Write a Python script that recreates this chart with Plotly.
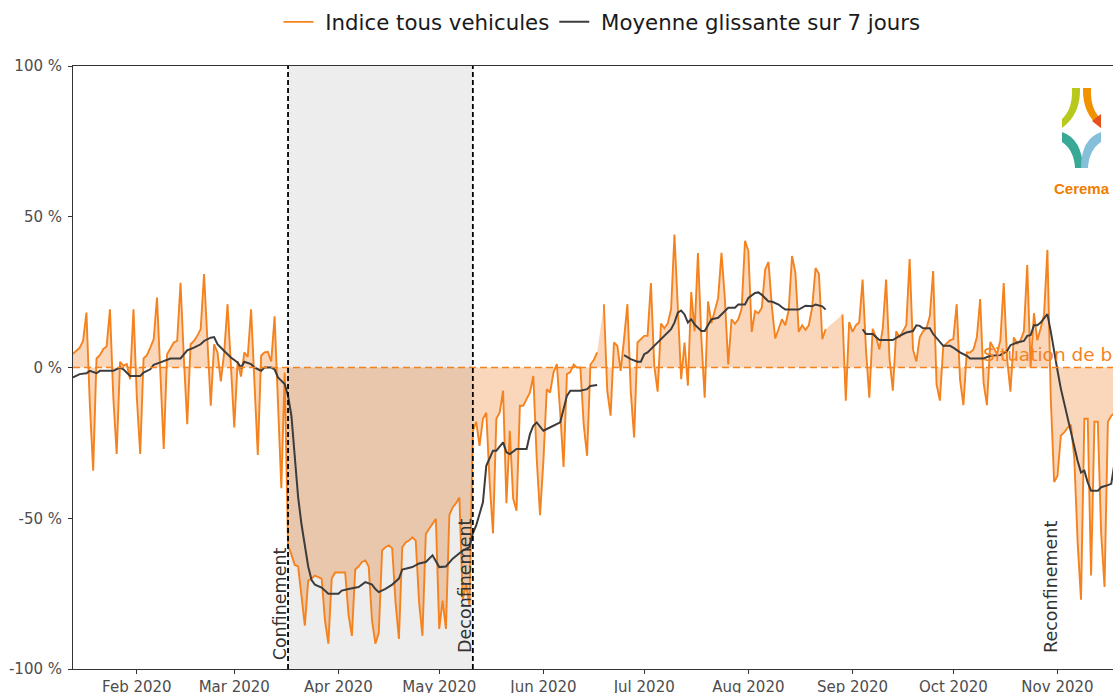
import pandas as pd
import plotly.graph_objects as go

# ---------------- data ----------------
START_DATE = "2020-01-13"
# daily index, all vehicles (%), Jan 13 -> Nov 18 2020 (None = missing day)
index_values = [
    4.5, 5.5, 6.6, 8.8, 18.2, -12, -34.2,
    3, 4.1, 6.1, 7, 19.3, -10, -28.7,
    1.9, 0.6, 1.1, -3.9, 19.3, -10, -28.7,
    3, 4.1, 6.6, 9.3, 23.2, -4, -27,
    4.4, 6.6, 8.3, 8.8, 28.1, 3, -18.8,
    7.7, 8.8, 10.5, 12.7, 31, 8, -12.7,
    7.7, 5, -4.6, 5, 21, -1, -19.9,
    2, -3, 5, 3.5, 19.3, -5, -29,
    4, 5, 5.2, 2, 17, -12, -40,
    -1.7, -59, -62, -65.5, -66, -76, -85.6,
    -70.7, -70, -69, -69.5, -70, -84, -91.6,
    -70, -68, -68, -68, -68, -82, -89,
    -67, -66, -64.5, -64, -66, -84, -91.6,
    -88, -60.7, -59.6, -59, -60, -78, -90,
    -59.6, -58, -57.4, -56.3, -57.4, -77.8, -89,
    -55.2, -53.5, -52, -50.2, -86.7, -77.3, -86.7,
    -49, -46.4, -45, -43.1, -77, -72, -79,
    -21, -18, -26, -17, -15, -38, -55,
    -17, -14.9, -7.7, -45, -21, -43.5, -47.5,
    -12.7, -12.7, -10.5, -8.3, -2.8, -30, -49,
    -31, -7.2, -8.3, -1.7, 1.1, -15, -33,
    -2.2, -1.5, 1, 0, 0, -19, -29.3,
    1, 2.5, 5, None, 21, -7.7, -16,
    8.3, 7.2, -1.1, 9.4, 21, -8, -23.2,
    8.3, 9.4, 10.5, 10.5, 28, 0.5, -8,
    14.6, 13, 14.6, 19.3, 44.1, 20, -3.9,
    8.3, -6, 25, 12, 38, 10, -10,
    21.9, 14.7, 19.3, 23, 38, 23, 1,
    16, 14.5, 16, 19.5, 42, 38.7, 11.8,
    18.7, 18, 19.8, 32.5, 35, 20, 9.6,
    12.5, 16, 14, 19, 37, 31.5, 11.8,
    14, 12.5, 14, 20, 33, 31, 9.4,
    12.7, None, None, None, None, 17.6, -11,
    15.1, 11.8, 14, 15, 29.2, 6, -10,
    12.8, 10, 6, 13, 29.2, 3, -7.7,
    12, 10, 12, 14, 36, 6, 2,
    10, 12, 13, 17, 32, -5.5, -11,
    7, 8, 9, 9.4, 21, -4, -12.5,
    5, 5, 6, 10, 22.7, -5, -12.5,
    8.5, 6.5, 4.5, 9, 28, 3, -8,
    10, 8, 9, 12, 34, 0, 18,
    9, 13, 17.5, 39, -10, -38, -36,
    -22.6, -21.5, -20, -19, -30, -58, -77,
    -17, -17, -69, -18, -18, -55, -72.8,
    -18, -16, -15,
]

# 7-day moving average, read at these days (offset from 2020-02-01)
ma_days = [
    -19, -17, -15, -14, -12, -11, -7, -5, -4, -2, 1, 2, 4, 5, 7, 10, 13, 15, 17, 19,
    20, 22, 23, 24, 26, 28, 30, 31, 32, 34, 35, 37, 38, 40, 41, 42, 44, 45, 46, 47,
    48, 49, 50, 51, 52, 53, 55, 57, 60, 61, 63, 66, 68, 70, 71, 72, 74, 76, 78, 79,
    82, 84, 86, 88, 90, 92, 94, 97, 99, 100, 101, 103, 104, 106, 107, 109, 110, 111, 113, 116,
    117, 118, 119, 121, 122, 124, 126, 128, 129, 132, 134, 135, 137, 138,
    145, 147, 149, 150, 151, 152, 153, 155, 157, 159, 160, 161, 162, 163, 164, 165, 166, 168, 169, 170,
    171, 173, 174, 176, 178, 179, 181, 182, 184, 185, 186, 188, 189, 191, 192, 193, 195, 197, 199, 201,
    202, 204, 205, 206,
    216, 217, 219, 221, 225, 227, 229, 231, 232, 233, 234, 236, 237, 239, 240, 242, 243, 245, 247, 248,
    252, 254, 256, 257, 259, 260, 262, 264, 265, 266, 267, 268, 269, 271, 272, 273, 274, 275, 276, 277,
    278, 279, 280, 281, 282, 283, 284, 286, 287, 289, 290, 291,
]
ma_values = [
    -3.3, -2.2, -1.9, -1.1, -1.9, -1.1, -1.1, 0.0, -0.6, -2.8, -2.8, -1.7, -0.6, 0.9, 1.7, 3.0, 3.0, 5.7, 6.6, 7.7,
    8.8, 9.9, 10.1, 7.7, 5.5, 3.3, 1.7, 0.0, 1.9, 1.1, 0.0, -1.1, 0.0, 0.0, -0.6, -3.3, -5.5, -9.4, -16, -30,
    -43, -52, -59, -66, -70.5, -72, -73, -75, -75, -74, -73.5, -72.8, -71.2, -72, -73.5, -74.5, -73.4, -72, -70, -67,
    -66.2, -65, -64.5, -62.3, -66.2, -66, -63.4, -60.7, -59.6, -55, -52.4, -44.7, -32.6, -27.6, -27.6, -24.8, -28.1, -28.7, -27, -27,
    -22.1, -19.3, -18.2, -21, -20.4, -19.3, -18.2, -9.4, -7.7, -7.7, -7.2, -6.1, -5.8, None,
    4.1, 2.8, 1.9, 1.9, 4.4, 5, 6.1, 8.3, 10.5, 12.7, 14.9, 18.2, 18.9, 17.6, 14.9, 16, 14.3, 12.1, 12.1, 14.3,
    16, 16.5, 17.6, 19.8, 19.8, 20.9, 20.9, 23.1, 24.7, 24.9, 24.1, 21.9, 21.9, 20.9, 20, 19.2, 19.2, 19.2, 20.5, 20.3,
    20.9, 20.3, 19.2, None,
    12.7, 11.1, 11.1, 9.1, 9.1, 10.5, 11.6, 12.1, 14, 13.8, 13, 13, 11.1, 8.3, 7.2, 7.2, 6.6, 5, 3.9, 3,
    3, 3.9, 3.9, 4.1, 5.5, 7.4, 8.3, 8.8, 10.5, 10.7, 14, 14, 14.9, 17.7, 12, 5, -1, -7, -12, -17,
    -22, -26.5, -31, -34.8, -34.2, -38.1, -40.9, -40.9, -39.7, -39, -38.6, -31.5,
]

y_tick_vals = [-100, -50, 0, 50, 100]
y_tick_text = ["-100 %", "-50 %", "0 %", "50 %", "100 %"]
x_tick_vals = ["2020-02-01", "2020-03-01", "2020-04-01", "2020-05-01", "2020-06-01",
               "2020-07-01", "2020-08-01", "2020-09-01", "2020-10-01", "2020-11-01"]
x_tick_text = ["Feb 2020", "Mar 2020", "Apr 2020", "May 2020", "Jun 2020",
               "Jul 2020", "Aug 2020", "Sep 2020", "Oct 2020", "Nov 2020"]
confinement_date = "2020-03-17"
deconfinement_date = "2020-05-11"

# ---------------- styling ----------------
ORANGE = "#F4831F"
DARK = "#3C3C3C"
FILL_OUT = "#FAD7BB"
FILL_IN = "#E9C7AD"
GRAY_RECT = "#EDEDED"
FONT = "DejaVu Sans"

# plot geometry in screen pixels (page body margin removed)
SL, ST, W, H = 73, 66, 1040, 603
FIG_W, FIG_H = 1113, 693

dates = pd.date_range(START_DATE, periods=len(index_values), freq="D")
feb1 = pd.Timestamp("2020-02-01")
ma_dates = [feb1 + pd.Timedelta(days=d) for d in ma_days]
c_date = pd.Timestamp(confinement_date)
d_date = pd.Timestamp(deconfinement_date)


def day_pos(d):
    return feb1 + pd.Timedelta(days=d)


series = pd.Series(index_values, index=dates, dtype="float")
seg_a = series[series.index <= c_date].dropna()
seg_b = series[(series.index >= c_date) & (series.index <= d_date)].dropna()
seg_c = series[series.index >= d_date].dropna()

fig = go.Figure()
for seg, col in [(seg_a, FILL_OUT), (seg_b, FILL_IN), (seg_c, FILL_OUT)]:
    fig.add_trace(go.Scatter(x=seg.index, y=seg.values, mode="lines", fill="tozeroy",
                             fillcolor=col, line=dict(width=0, color=col),
                             showlegend=False, hoverinfo="skip"))

fig.add_trace(go.Scatter(x=dates, y=index_values, mode="lines", connectgaps=False,
                         name="\u00a0Indice tous vehicules",
                         line=dict(color=ORANGE, width=1.9)))
fig.add_trace(go.Scatter(x=ma_dates, y=ma_values, mode="lines", connectgaps=False,
                         name="\u00a0Moyenne glissante sur 7 jours",
                         line=dict(color=DARK, width=2)))

shapes = [
    dict(type="rect", xref="x", yref="y", x0=c_date, x1=d_date, y0=-100, y1=100,
         fillcolor=GRAY_RECT, line=dict(width=0), layer="below"),
    dict(type="line", xref="paper", yref="y", x0=0, x1=1, y0=0, y1=0,
         line=dict(color=ORANGE, width=1.6, dash="7px,4px"), layer="above"),
    dict(type="line", xref="x", yref="y", x0=c_date, x1=c_date, y0=-100, y1=100,
         line=dict(color="black", width=1.8, dash="5px,3px"), layer="above"),
    dict(type="line", xref="x", yref="y", x0=d_date, x1=d_date, y0=-100, y1=100,
         line=dict(color="black", width=1.8, dash="5px,3px"), layer="above"),
]


def P(px, py):
    # screen pixel -> paper coordinates
    return f"{(px - SL) / W:.5f},{(ST + H - py) / H:.5f}"


logo = [
    (f"M{P(1072,88)} L{P(1080,88)} Q{P(1081,114)} {P(1062,128)} L{P(1062,119)} Q{P(1073,109)} {P(1072,88)} Z", "#B7C91C"),
    (f"M{P(1091,88)} L{P(1083,88)} Q{P(1082,114)} {P(1101,128)} L{P(1101,119)} Q{P(1090,109)} {P(1091,88)} Z", "#F39200"),
    (f"M{P(1092,121)} L{P(1101,114)} L{P(1101,128)} Z", "#E5501E"),
    (f"M{P(1062,132)} L{P(1062,142)} Q{P(1074,150)} {P(1075,168)} L{P(1083,168)} Q{P(1082,139)} {P(1062,132)} Z", "#3AA897"),
    (f"M{P(1101,132)} L{P(1101,142)} Q{P(1089,150)} {P(1088,168)} L{P(1081,168)} Q{P(1081,139)} {P(1101,132)} Z", "#86BFDA"),
]
for path, col in logo:
    shapes.append(dict(type="path", xref="paper", yref="paper", path=path,
                       fillcolor=col, line=dict(width=0), layer="above"))

ann_font = dict(family=FONT, size=17.5, color="#333333")
annotations = [
    dict(x=day_pos(42.65), y=-78.5, xref="x", yref="y", text="Confinement", textangle=-90,
         showarrow=False, xanchor="center", yanchor="middle", font=ann_font),
    dict(x=day_pos(97.8), y=-72.3, xref="x", yref="y", text="Deconfinement", textangle=-90,
         showarrow=False, xanchor="center", yanchor="middle", font=ann_font),
    dict(x=day_pos(272.05), y=-72.8, xref="x", yref="y", text="Reconfinement", textangle=-90,
         showarrow=False, xanchor="center", yanchor="middle", font=ann_font),
    dict(x=day_pos(251.2), y=4.4, xref="x", yref="y", text="Situation de base",
         showarrow=False, xanchor="left", yanchor="middle",
         font=dict(family=FONT, size=18.5, color=ORANGE)),
    dict(x=(1082 - SL) / W, y=(ST + H - 188) / H, xref="paper", yref="paper", text="<b>Cerema</b>",
         showarrow=False, xanchor="center", yanchor="middle",
         font=dict(family="Liberation Sans Narrow, Liberation Sans", size=15, color="#F07D00")),
]

x_end = pd.Timestamp(START_DATE) + pd.Timedelta(days=W / 3.36)

fig.update_layout(
    width=FIG_W, height=FIG_H, autosize=False,
    margin=dict(l=SL, r=FIG_W - SL - W, t=ST, b=FIG_H - ST - H, autoexpand=False),
    paper_bgcolor="white", plot_bgcolor="white",
    font=dict(family=FONT, color="#1A1A1A"),
    showlegend=True,
    legend=dict(orientation="h", x=(602 - SL) / W, xanchor="center", y=1 + (ST - 22) / H,
                yanchor="middle", font=dict(family=FONT, size=21.3, color="#1A1A1A"),
                bgcolor="rgba(0,0,0,0)"),
    shapes=shapes,
    annotations=annotations,
)
fig.update_xaxes(range=[pd.Timestamp(START_DATE), x_end], type="date",
                 tickvals=x_tick_vals, ticktext=x_tick_text, automargin=False,
                 ticks="outside", ticklen=4, tickcolor="#333333", tickwidth=1,
                 showline=True, linecolor="#333333", linewidth=1, mirror=True,
                 showgrid=False, zeroline=False,
                 tickfont=dict(family=FONT, size=15, color="#4D4D4D"))
fig.update_yaxes(range=[-100, 100], tickvals=y_tick_vals, ticktext=y_tick_text,
                 automargin=False,
                 ticks="outside", ticklen=4, tickcolor="#333333", tickwidth=1,
                 showline=True, linecolor="#333333", linewidth=1, mirror=False,
                 showgrid=False, zeroline=False, ticklabelstandoff=3,
                 tickfont=dict(family=FONT, size=15, color="#4D4D4D"))

fig.write_html("out.html", config={"displayModeBar": False},
               post_script="document.body.style.margin='0';document.body.style.overflow='hidden';")
